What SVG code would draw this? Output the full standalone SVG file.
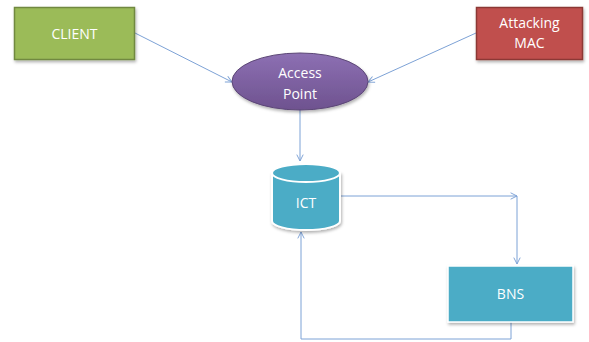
<svg xmlns="http://www.w3.org/2000/svg" width="589" height="342" viewBox="0 0 589 342">
<style>
.t{font-family:"Open Sans","Liberation Sans",sans-serif;font-size:14px;fill:#fff;text-anchor:middle}
.c{fill:none;stroke:#7DA2D6;stroke-width:1}
</style>
<defs>
<marker id="a" viewBox="0 0 10 10" refX="9" refY="5" markerWidth="8" markerHeight="8" orient="auto" markerUnits="userSpaceOnUse">
<path d="M1,1 L9,5 L1,9" fill="none" stroke="#7DA2D6" stroke-width="1.2"/>
</marker>
<linearGradient id="pg" x1="0" y1="0" x2="0" y2="1">
<stop offset="0" stop-color="#8D70B3"/><stop offset="1" stop-color="#6E528F"/>
</linearGradient>
<filter id="sh" x="-20%" y="-20%" width="140%" height="150%">
<feDropShadow dx="1" dy="2" stdDeviation="1.5" flood-color="#000" flood-opacity="0.3"/>
</filter>
</defs>
<rect width="589" height="342" fill="#fff"/>
<g id="connectors">
<line class="c" x1="135" y1="33" x2="232" y2="82" marker-end="url(#a)"/>
<line class="c" x1="476" y1="33" x2="368" y2="82" marker-end="url(#a)"/>
<line class="c" x1="300" y1="110" x2="300" y2="161" marker-end="url(#a)"/>
<polyline class="c" points="341,196 517,196" marker-end="url(#a)"/>
<polyline class="c" points="517,196 517,264" marker-end="url(#a)"/>
<polyline class="c" points="511,322 511,339 301,339 301,232" marker-end="url(#a)"/>
</g>
<g id="client">
<rect x="14.5" y="7.5" width="120" height="52" fill="#9BBB59" stroke="#71893F" stroke-width="1.5" filter="url(#sh)"/>
<text class="t" x="74.5" y="38.5">CLIENT</text>
</g>
<g id="attacking-mac">
<rect x="476.5" y="7.5" width="106" height="52" fill="#C0504D" stroke="#8C3836" stroke-width="1.5" filter="url(#sh)"/>
<text class="t" x="529.5" y="28">Attacking</text>
<text class="t" x="529.5" y="48">MAC</text>
</g>
<g id="access-point">
<ellipse cx="300" cy="81.5" rx="68" ry="28.5" fill="url(#pg)" stroke="#5C4776" stroke-width="1" filter="url(#sh)"/>
<text class="t" x="300" y="78">Access</text>
<text class="t" x="300" y="99">Point</text>
</g>
<g id="ict">
<path d="M272,173 L272,221 A34,9 0 0 0 340,221 L340,173 Z" fill="#4BACC6" stroke="#fff" stroke-width="2" filter="url(#sh)"/>
<ellipse cx="306" cy="173" rx="34" ry="9" fill="#4BACC6" stroke="#fff" stroke-width="2"/>
<text class="t" x="306" y="208">ICT</text>
</g>
<g id="bns">
<rect x="448" y="266" width="125" height="56" fill="#4BACC6" stroke="#fff" stroke-width="1.5" filter="url(#sh)"/>
<text class="t" x="510.5" y="299">BNS</text>
</g>
</svg>
